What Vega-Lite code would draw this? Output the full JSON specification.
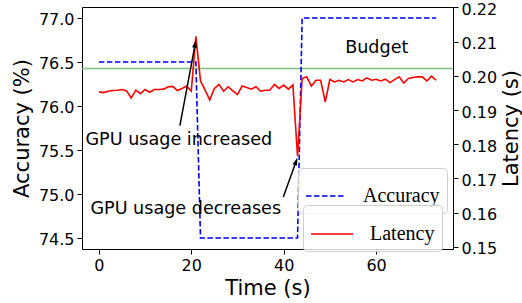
{
  "$schema": "https://vega.github.io/schema/vega-lite/v6.json",
  "width": 371,
  "height": 242,
  "autosize": "none",
  "padding": {"left": 82, "top": 7, "right": 69, "bottom": 54},
  "datasets": {
    "series": [
      {"t": 0, "acc": 76.5, "lat": 0.1953},
      {"t": 1, "acc": 76.5, "lat": 0.1951},
      {"t": 2, "acc": 76.5, "lat": 0.1955},
      {"t": 3, "acc": 76.5, "lat": 0.1957},
      {"t": 4, "acc": 76.5, "lat": 0.1958},
      {"t": 5, "acc": 76.5, "lat": 0.1960},
      {"t": 6, "acc": 76.5, "lat": 0.1956},
      {"t": 7, "acc": 76.5, "lat": 0.1935},
      {"t": 8, "acc": 76.5, "lat": 0.1958},
      {"t": 9, "acc": 76.5, "lat": 0.1948},
      {"t": 10, "acc": 76.5, "lat": 0.1960},
      {"t": 11, "acc": 76.5, "lat": 0.1952},
      {"t": 12, "acc": 76.5, "lat": 0.1960},
      {"t": 13, "acc": 76.5, "lat": 0.1960},
      {"t": 14, "acc": 76.5, "lat": 0.1961},
      {"t": 15, "acc": 76.5, "lat": 0.1968},
      {"t": 16, "acc": 76.5, "lat": 0.1969},
      {"t": 17, "acc": 76.5, "lat": 0.1957},
      {"t": 18, "acc": 76.5, "lat": 0.1963},
      {"t": 19, "acc": 76.5, "lat": 0.1970},
      {"t": 20, "acc": 76.5, "lat": 0.1955},
      {"t": 21, "acc": 76.5, "lat": 0.2115},
      {"t": 22, "acc": 74.5, "lat": 0.1985},
      {"t": 23, "acc": 74.5, "lat": 0.1958},
      {"t": 24, "acc": 74.5, "lat": 0.1929},
      {"t": 25, "acc": 74.5, "lat": 0.1963},
      {"t": 26, "acc": 74.5, "lat": 0.1975},
      {"t": 27, "acc": 74.5, "lat": 0.1955},
      {"t": 28, "acc": 74.5, "lat": 0.1968},
      {"t": 29, "acc": 74.5, "lat": 0.1956},
      {"t": 30, "acc": 74.5, "lat": 0.1945},
      {"t": 31, "acc": 74.5, "lat": 0.1970},
      {"t": 32, "acc": 74.5, "lat": 0.1966},
      {"t": 33, "acc": 74.5, "lat": 0.1961},
      {"t": 34, "acc": 74.5, "lat": 0.1968},
      {"t": 35, "acc": 74.5, "lat": 0.1955},
      {"t": 36, "acc": 74.5, "lat": 0.1958},
      {"t": 37, "acc": 74.5, "lat": 0.1958},
      {"t": 38, "acc": 74.5, "lat": 0.1975},
      {"t": 39, "acc": 74.5, "lat": 0.1963},
      {"t": 40, "acc": 74.5, "lat": 0.1973},
      {"t": 41, "acc": 74.5, "lat": 0.1961},
      {"t": 42, "acc": 74.5, "lat": 0.1973},
      {"t": 43, "acc": 74.5, "lat": 0.1765},
      {"t": 44, "acc": 77.0, "lat": 0.1992},
      {"t": 45, "acc": 77.0, "lat": 0.1997},
      {"t": 46, "acc": 77.0, "lat": 0.1970},
      {"t": 47, "acc": 77.0, "lat": 0.1987},
      {"t": 48, "acc": 77.0, "lat": 0.1987},
      {"t": 49, "acc": 77.0, "lat": 0.1924},
      {"t": 50, "acc": 77.0, "lat": 0.1989},
      {"t": 51, "acc": 77.0, "lat": 0.1982},
      {"t": 52, "acc": 77.0, "lat": 0.1987},
      {"t": 53, "acc": 77.0, "lat": 0.1982},
      {"t": 54, "acc": 77.0, "lat": 0.1989},
      {"t": 55, "acc": 77.0, "lat": 0.1982},
      {"t": 56, "acc": 77.0, "lat": 0.1989},
      {"t": 57, "acc": 77.0, "lat": 0.1985},
      {"t": 58, "acc": 77.0, "lat": 0.1994},
      {"t": 59, "acc": 77.0, "lat": 0.1987},
      {"t": 60, "acc": 77.0, "lat": 0.1990},
      {"t": 61, "acc": 77.0, "lat": 0.1985},
      {"t": 62, "acc": 77.0, "lat": 0.1990},
      {"t": 63, "acc": 77.0, "lat": 0.1980},
      {"t": 64, "acc": 77.0, "lat": 0.1989},
      {"t": 65, "acc": 77.0, "lat": 0.1997},
      {"t": 66, "acc": 77.0, "lat": 0.1979},
      {"t": 67, "acc": 77.0, "lat": 0.1992},
      {"t": 68, "acc": 77.0, "lat": 0.1995},
      {"t": 69, "acc": 77.0, "lat": 0.1997},
      {"t": 70, "acc": 77.0, "lat": 0.1997},
      {"t": 71, "acc": 77.0, "lat": 0.1985},
      {"t": 72, "acc": 77.0, "lat": 0.1999},
      {"t": 73, "acc": 77.0, "lat": 0.1987}
    ],
    "notes": [
      {"t": 17.3, "acc": 75.614, "label": "GPU usage increased"},
      {"t": 18.8, "acc": 74.826, "label": "GPU usage decreases"},
      {"t": 60.15, "acc": 76.656, "label": "Budget"}
    ],
    "arrows": [
      {"id": "up", "tx": 17.54, "ty": 75.778, "hx": 20.85, "hy": 76.706},
      {"id": "down", "tx": 39.92, "ty": 74.966, "hx": 42.7, "hy": 75.372}
    ],
    "budget": [{"lat": 0.2021}]
  },
  "layer": [
    {
      "data": {"name": "budget"},
      "mark": {"type": "rule", "color": "#80c080", "strokeWidth": 1.5},
      "encoding": {
        "y": {"field": "lat", "type": "quantitative", "scale": {"domain": [0.1494, 0.2201], "nice": false, "zero": false}, "axis": null}
      }
    },
    {
      "data": {"name": "series"},
      "mark": {"type": "line", "strokeDash": [5.5, 2.5], "strokeWidth": 1.6},
      "encoding": {
        "x": {"field": "t", "type": "quantitative", "scale": {"domain": [-3.65, 76.65], "nice": false, "zero": false},
              "axis": {"values": [0, 20, 40, 60], "title": "Time (s)", "titlePadding": 4}},
        "y": {"field": "acc", "type": "quantitative", "scale": {"domain": [74.375, 77.125], "nice": false, "zero": false},
              "axis": {"orient": "left", "values": [74.5, 75.0, 75.5, 76.0, 76.5, 77.0], "format": ".1f", "title": "Accuracy (%)", "titlePadding": 6, "labelOffset": 1}},
        "color": {"datum": "Accuracy", "type": "nominal", "scale": {"domain": ["Accuracy"], "range": ["#0000ff"]},
                  "legend": {"orient": "none", "legendX": 216, "legendY": 161, "symbolDash": [5.5, 2.5], "symbolSize": 1600}}
      }
    },
    {
      "data": {"name": "series"},
      "mark": {"type": "line", "strokeWidth": 1.6},
      "encoding": {
        "x": {"field": "t", "type": "quantitative", "scale": {"domain": [-3.65, 76.65], "nice": false, "zero": false}},
        "y": {"field": "lat", "type": "quantitative", "scale": {"domain": [0.1494, 0.2201], "nice": false, "zero": false},
              "axis": {"orient": "right", "values": [0.15, 0.16, 0.17, 0.18, 0.19, 0.2, 0.21, 0.22], "format": ".2f", "title": "Latency (s)",
                       "titleAngle": 270, "titleX": 58, "titleY": 121, "titleAlign": "center", "titleBaseline": "middle", "labelOffset": 2}},
        "color": {"datum": "Latency", "type": "nominal", "scale": {"domain": ["Latency"], "range": ["#ff0000"]},
                  "legend": {"orient": "none", "legendX": 221, "legendY": 198, "symbolSize": 1764}}
      }
    },
    {
      "data": {"name": "notes"},
      "mark": {"type": "text", "font": "DejaVu Sans", "fontSize": 17.6, "color": "black", "align": "center", "baseline": "middle"},
      "encoding": {
        "x": {"field": "t", "type": "quantitative", "scale": {"domain": [-3.65, 76.65], "nice": false, "zero": false}},
        "y": {"field": "acc", "type": "quantitative", "scale": {"domain": [74.375, 77.125], "nice": false, "zero": false}, "axis": null},
        "text": {"field": "label"}
      }
    },
    {
      "data": {"name": "arrows"},
      "mark": {"type": "rule", "color": "black", "strokeWidth": 1.5},
      "encoding": {
        "x": {"field": "tx", "type": "quantitative", "scale": {"domain": [-3.65, 76.65], "nice": false, "zero": false}},
        "y": {"field": "ty", "type": "quantitative", "scale": {"domain": [74.375, 77.125], "nice": false, "zero": false}, "axis": null},
        "x2": {"field": "hx"},
        "y2": {"field": "hy"}
      }
    },
    {
      "data": {"name": "arrows"},
      "transform": [{"filter": "datum.id == 'up'"}],
      "mark": {"type": "point", "shape": "M0,-1L-0.6,1L0.6,1Z", "filled": true, "color": "black", "opacity": 1, "size": 64, "angle": 10.6},
      "encoding": {
        "x": {"field": "hx", "type": "quantitative", "scale": {"domain": [-3.65, 76.65], "nice": false, "zero": false}},
        "y": {"field": "hy", "type": "quantitative", "scale": {"domain": [74.375, 77.125], "nice": false, "zero": false}, "axis": null}
      }
    },
    {
      "data": {"name": "arrows"},
      "transform": [{"filter": "datum.id == 'down'"}],
      "mark": {"type": "point", "shape": "M0,-1L-0.6,1L0.6,1Z", "filled": true, "color": "black", "opacity": 1, "size": 64, "angle": 19.5},
      "encoding": {
        "x": {"field": "hx", "type": "quantitative", "scale": {"domain": [-3.65, 76.65], "nice": false, "zero": false}},
        "y": {"field": "hy", "type": "quantitative", "scale": {"domain": [74.375, 77.125], "nice": false, "zero": false}, "axis": null}
      }
    }
  ],
  "resolve": {"scale": {"y": "independent", "color": "independent"}, "legend": {"color": "independent"}, "axis": {"y": "independent"}},
  "config": {
    "view": {"stroke": "black", "strokeWidth": 1},
    "axis": {
      "domainColor": "black", "tickColor": "black", "labelColor": "black", "titleColor": "black",
      "labelFont": "DejaVu Sans", "titleFont": "DejaVu Sans", "labelFontSize": 16, "titleFontSize": 21,
      "titleFontWeight": "normal", "tickSize": 5, "grid": false, "labelPadding": 3, "domain": false
    },
    "legend": {
      "title": null, "fillColor": "rgba(255,255,255,0.8)", "strokeColor": "#d0d0d0", "cornerRadius": 4, "padding": 7,
      "labelFont": "Liberation Serif", "labelFontSize": 20, "labelColor": "black", "symbolType": "stroke",
      "symbolStrokeWidth": 1.6, "labelOffset": 16, "labelLimit": 0
    }
  }
}
